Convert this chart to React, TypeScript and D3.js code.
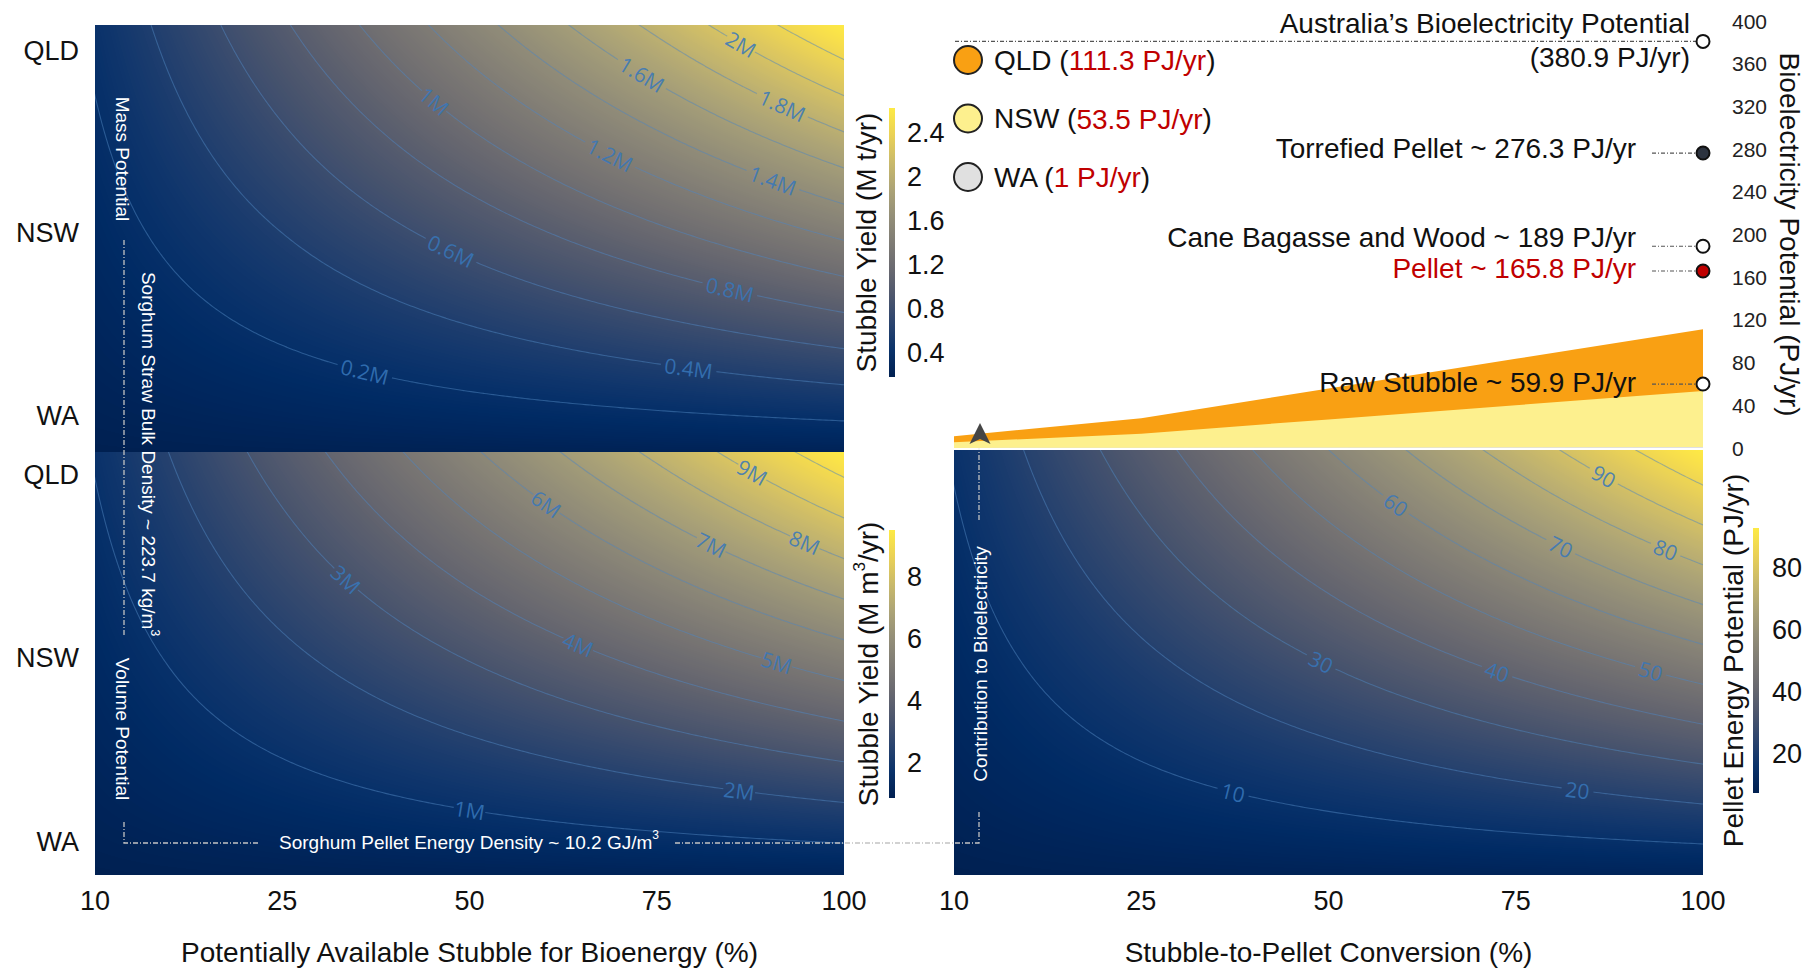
import React, { useMemo } from 'react';
import * as d3 from 'd3';

const W = 1816;
const H = 971;
const FONT = '"Liberation Sans", Arial, sans-serif';

// x axis categories (shared by every panel)
const xTicks = [10, 25, 50, 75, 100];
// rows, bottom to top
const states = ['WA', 'NSW', 'QLD'];

// stubble mass yield (M t/yr) at each x tick, per state
const massWA = [0.023, 0.075, 0.127, 0.178, 0.23];
const massNSW = [0.124, 0.4, 0.68, 0.96, 1.24];
const massQLD = [0.225, 0.73, 1.24, 1.74, 2.25];
const massLevels = [0.2, 0.4, 0.6, 0.8, 1, 1.2, 1.4, 1.6, 1.8, 2, 2.2];
const massLabelAt = [1.44, 3.17, 1.9, 3.39, 1.81, 2.75, 3.62, 2.92, 3.67, 3.45, -1];
const massBarRange = [0.18, 2.63];
const massBarTicks = [0.4, 0.8, 1.2, 1.6, 2, 2.4];

// stubble volume yield (M m3/yr)
const volWA = [0.1, 0.34, 0.57, 0.8, 1.03];
const volNSW = [0.55, 1.79, 3.04, 4.29, 5.54];
const volQLD = [1.01, 3.26, 5.54, 7.78, 10.06];
const volLevels = [1, 2, 3, 4, 5, 6, 7, 8, 9, 10];
const volLabelAt = [2.0, 3.44, 1.34, 2.58, 3.64, 2.41, 3.29, 3.79, 3.51, -1];
const volBarRange = [0.87, 9.5];
const volBarTicks = [2, 4, 6, 8];

// pellet energy potential (PJ/yr)
const energyWA = [1.0, 3.5, 5.8, 8.2, 10.5];
const energyNSW = [5.6, 18.3, 31.0, 43.8, 56.5];
const energyQLD = [10.3, 33.3, 56.5, 79.4, 102.6];
const energyLevels = [10, 20, 30, 40, 50, 60, 70, 80, 90, 100];
const energyLabelAt = [1.49, 3.33, 1.96, 2.9, 3.72, 2.36, 3.24, 3.8, 3.47, -1];
const energyBarRange = [7.4, 92.9];
const energyBarTicks = [20, 40, 60, 80];

// contribution to bioelectricity by state (PJ/yr)
const bioQLD = [11.1, 27.8, 55.7, 83.5, 111.3];
const bioNSW = [5.4, 13.4, 26.8, 40.1, 53.5];
const bioWA = [0.1, 0.25, 0.5, 0.75, 1.0];
const bioTicks = [0, 40, 80, 120, 160, 200, 240, 280, 320, 360, 400];

const legendStates = ['QLD', 'NSW', 'WA'];
const legendTotals = ['111.3 PJ/yr', '53.5 PJ/yr', '1 PJ/yr'];
const legendColors = ['#f9a013', '#fdf08e', '#e0e0e0'];

const refNames = ['Torrefied Pellet', 'Cane Bagasse and Wood', 'Pellet', 'Raw Stubble'];
const refValues = [276.3, 189, 165.8, 59.9];
const australiaTotal = 380.9;

const lut = d3.range(256).map((i) => d3.rgb(d3.interpolateCividis(i / 255)));

type Field = (u: number, v: number) => number;

// rows[0] = WA (v=0), rows[1] = NSW, rows[2] = QLD ; bilinear, linear beyond the rows
function makeField(rows: number[][]): Field {
  return (u, v) => {
    const i = Math.max(0, Math.min(3, Math.floor(u)));
    const j = Math.max(0, Math.min(1, Math.floor(v)));
    const fu = u - i;
    const fv = v - j;
    const a = rows[j][i] * (1 - fu) + rows[j][i + 1] * fu;
    const b = rows[j + 1][i] * (1 - fu) + rows[j + 1][i + 1] * fu;
    return a * (1 - fv) + b * fv;
  };
}

function renderImage(field: Field, w: number, h: number, vLo: number, vHi: number, zMin: number, zMax: number) {
  const canvas = document.createElement('canvas');
  canvas.width = w;
  canvas.height = h;
  const ctx = canvas.getContext('2d')!;
  const img = ctx.createImageData(w, h);
  for (let py = 0; py < h; py++) {
    const v = vHi - ((py + 0.5) / h) * (vHi - vLo);
    for (let px = 0; px < w; px++) {
      const u = ((px + 0.5) / w) * 4;
      const t = (field(u, v) - zMin) / (zMax - zMin);
      const c = lut[Math.max(0, Math.min(255, Math.round(t * 255)))];
      const k = (py * w + px) * 4;
      img.data[k] = c.r;
      img.data[k + 1] = c.g;
      img.data[k + 2] = c.b;
      img.data[k + 3] = 255;
    }
  }
  ctx.putImageData(img, 0, 0);
  return canvas.toDataURL();
}

interface PanelProps {
  id: string;
  x0: number; x1: number; y0: number; y1: number;
  vLo: number; vHi: number;
  rows: number[][];
  levels: number[];
  labelAt: number[];
  fmt: (d: number) => string;
}

function HeatPanel({ id, x0, x1, y0, y1, vLo, vHi, rows, levels, labelAt, fmt }: PanelProps) {
  const built = useMemo(() => {
    const field = makeField(rows);
    const w = Math.round(x1 - x0);
    const h = Math.round(y1 - y0);
    const corners = [field(0, vLo), field(4, vLo), field(0, vHi), field(4, vHi)];
    const zMin = d3.min(corners)!;
    const zMax = d3.max(corners)!;
    const href = renderImage(field, w, h, vLo, vHi, zMin, zMax);

    const xs = d3.scaleLinear().domain([0, 4]).range([x0, x1]);
    const ys = d3.scaleLinear().domain([vLo, vHi]).range([y1, y0]);

    // contour grid a little larger than the panel so borders get clipped away
    const nx = 260, ny = 160;
    const uL = -0.2, uH = 4.2, vL = vLo - 0.1, vH = vHi + 0.1;
    const values = new Array(nx * ny);
    for (let j = 0; j < ny; j++) {
      const v = vH - ((j + 0.5) / ny) * (vH - vL);
      for (let i = 0; i < nx; i++) {
        values[j * nx + i] = field(uL + ((i + 0.5) / nx) * (uH - uL), v);
      }
    }
    const polys = d3.contours().size([nx, ny]).thresholds(levels)(values);
    const proj = d3.geoTransform({
      point(px: number, py: number) {
        // @ts-ignore
        this.stream.point(xs(uL + (px / nx) * (uH - uL)), ys(vH - (py / ny) * (vH - vL)));
      },
    });
    const path = d3.geoPath(proj);
    const lines = polys.map((p) => path(p as any) || '');

    const dxu = 4 / (x1 - x0);
    const dyv = -(vHi - vLo) / (y1 - y0);
    const labels = levels
      .map((c, k) => {
        const u0 = labelAt[k];
        if (u0 < 0) return null;
        if (field(u0, vLo) > c || field(u0, vHi) < c) return null;
        let lo = vLo, hi = vHi;
        for (let it = 0; it < 40; it++) {
          const mid = (lo + hi) / 2;
          if (field(u0, mid) < c) lo = mid; else hi = mid;
        }
        const v = (lo + hi) / 2;
        const e = 0.01;
        const gx = ((field(u0 + e, v) - field(u0 - e, v)) / (2 * e)) * dxu;
        const gy = ((field(u0, v + e) - field(u0, v - e)) / (2 * e)) * dyv;
        let tx = -gy, ty = gx;
        if (tx < 0) { tx = -tx; ty = -ty; }
        const angle = (Math.atan2(ty, tx) * 180) / Math.PI;
        const text = fmt(c);
        return { x: xs(u0), y: ys(v), angle, text, w: text.length * 12 + 8 };
      })
      .filter(Boolean) as { x: number; y: number; angle: number; text: string; w: number }[];

    return { href, lines, labels };
  }, [x0, x1, y0, y1, vLo, vHi, rows, levels, labelAt, fmt]);

  return (
    <g>
      <defs>
        <clipPath id={`clip-${id}`}>
          <rect x={x0} y={y0} width={x1 - x0} height={y1 - y0} />
        </clipPath>
        <mask id={`mask-${id}`} maskUnits="userSpaceOnUse" x={x0} y={y0} width={x1 - x0} height={y1 - y0}>
          <rect x={x0} y={y0} width={x1 - x0} height={y1 - y0} fill="white" />
          {built.labels.map((l, i) => (
            <rect key={i} x={-l.w / 2} y={-10} width={l.w} height={20} fill="black"
              transform={`translate(${l.x},${l.y}) rotate(${l.angle})`} />
          ))}
        </mask>
      </defs>
      <image href={built.href} x={x0} y={y0} width={x1 - x0} height={y1 - y0} preserveAspectRatio="none" />
      <g clipPath={`url(#clip-${id})`}>
        <g mask={`url(#mask-${id})`}>
          {built.lines.map((d, i) => (
            <path key={i} d={d} fill="none" stroke="#4f86bf" strokeOpacity={0.5} strokeWidth={1.1} />
          ))}
        </g>
        {built.labels.map((l, i) => (
          <text key={i} transform={`translate(${l.x},${l.y}) rotate(${l.angle})`} textAnchor="middle"
            dominantBaseline="central" fontFamily='"Open Sans", "DejaVu Sans", sans-serif' fontSize={21}
            fill="#3777bb" fillOpacity={0.85}>
            {l.text}
          </text>
        ))}
      </g>
    </g>
  );
}

function ColorBar({ id, x, y0, y1, range, ticks, title, titleX, labelX }: {
  id: string; x: number; y0: number; y1: number; range: number[]; ticks: number[];
  title: React.ReactNode; titleX: number; labelX: number;
}) {
  const s = d3.scaleLinear().domain(range).range([y1, y0]);
  const stops = d3.range(0, 1.0001, 0.1);
  return (
    <g>
      <defs>
        <linearGradient id={`grad-${id}`} x1="0" y1="1" x2="0" y2="0">
          {stops.map((t) => (
            <stop key={t} offset={t} stopColor={d3.interpolateCividis(t)} />
          ))}
        </linearGradient>
      </defs>
      <rect x={x} y={y0} width={6} height={y1 - y0} fill={`url(#grad-${id})`} />
      {ticks.map((t) => (
        <text key={t} x={labelX} y={s(t)} dominantBaseline="central" fontSize={27} fontFamily={FONT} fill="#111">
          {t}
        </text>
      ))}
      <text transform={`translate(${titleX},${(y0 + y1) / 2}) rotate(-90)`} textAnchor="middle"
        dominantBaseline="central" fontSize={28} fontFamily={FONT} fill="#111">
        {title}
      </text>
    </g>
  );
}

const massRows = [massWA, massNSW, massQLD];
const volRows = [volWA, volNSW, volQLD];
const energyRows = [energyWA, energyNSW, energyQLD];
const fmtM = (d: number) => `${d3.format('~g')(+d.toFixed(1))}M`;
const fmtE = (d: number) => `${d}`;

export default function App() {
  // geometry
  const L = { x0: 95, x1: 844 };
  const R = { x0: 954, x1: 1703 };
  const top = { y0: 25, y1: 452, vLo: -0.2, vHi: 2.14 };
  const bot = { y0: 452, y1: 875, vLo: -0.18, vHi: 2.125 };

  const xL = d3.scalePoint<number>().domain(xTicks).range([L.x0, L.x1]);
  const xR = d3.scalePoint<number>().domain(xTicks).range([R.x0, R.x1]);
  const yTop = d3.scaleLinear().domain([top.vLo, top.vHi]).range([top.y1, top.y0]);
  const yBot = d3.scaleLinear().domain([bot.vLo, bot.vHi]).range([bot.y1, bot.y0]);
  const yBio = d3.scaleLinear().domain([0, 400]).range([448, 21]);

  const area = (vals: number[]) =>
    d3.area<number>()
      .x((_, i) => xR(xTicks[i])!)
      .y0(yBio(0))
      .y1((d) => yBio(d))(vals) || '';

  const dotX = R.x1;
  const leader = { stroke: '#555', strokeWidth: 1.2, strokeDasharray: '4,2,1,2' };
  const annot = { stroke: '#c4c4c4', strokeWidth: 1.3, strokeDasharray: '5,2,1,2', fill: 'none' };
  const refNudge = [-5, -9, -3, -2];
  const refColors = ['#111', '#111', '#c00000', '#111'];
  const refFill = ['#2c333f', '#fff', '#c00000', '#fff'];

  return (
    <svg width={W} height={H} style={{ position: 'absolute', left: 0, top: 0, background: '#fff' }}
      fontFamily={FONT}>
      <HeatPanel id="mass" x0={L.x0} x1={L.x1} y0={top.y0} y1={top.y1} vLo={top.vLo} vHi={top.vHi}
        rows={massRows} levels={massLevels} labelAt={massLabelAt} fmt={fmtM} />
      <HeatPanel id="vol" x0={L.x0} x1={L.x1} y0={bot.y0} y1={bot.y1} vLo={bot.vLo} vHi={bot.vHi}
        rows={volRows} levels={volLevels} labelAt={volLabelAt} fmt={fmtM} />
      <HeatPanel id="energy" x0={R.x0} x1={R.x1} y0={450} y1={bot.y1} vLo={bot.vLo} vHi={2.135}
        rows={energyRows} levels={energyLevels} labelAt={energyLabelAt} fmt={fmtE} />

      {/* state labels */}
      {states.map((s, i) => (
        <g key={s}>
          <text x={79} y={yTop(i)} textAnchor="end" dominantBaseline="central" fontSize={27} fill="#111">{s}</text>
          <text x={79} y={yBot(i)} textAnchor="end" dominantBaseline="central" fontSize={27} fill="#111">{s}</text>
        </g>
      ))}

      {/* x ticks */}
      {xTicks.map((t) => (
        <g key={t}>
          <text x={xL(t)} y={901} textAnchor="middle" dominantBaseline="central" fontSize={27} fill="#111">{t}</text>
          <text x={xR(t)} y={901} textAnchor="middle" dominantBaseline="central" fontSize={27} fill="#111">{t}</text>
        </g>
      ))}
      <text x={(L.x0 + L.x1) / 2} y={952} textAnchor="middle" dominantBaseline="central" fontSize={28} fill="#111">
        Potentially Available Stubble for Bioenergy (%)
      </text>
      <text x={(R.x0 + R.x1) / 2} y={952} textAnchor="middle" dominantBaseline="central" fontSize={28} fill="#111">
        Stubble-to-Pellet Conversion (%)
      </text>

      {/* white annotations in the left panels */}
      <text transform="translate(122,159) rotate(90)" textAnchor="middle" dominantBaseline="central" fontSize={19} fill="#fff">
        Mass Potential
      </text>
      <text transform="translate(148,454) rotate(90)" textAnchor="middle" dominantBaseline="central" fontSize={19} fill="#fff">
        Sorghum Straw Bulk Density ~ 223.7 kg/m<tspan dy={-7} fontSize={12}>3</tspan>
      </text>
      <text transform="translate(122,729) rotate(90)" textAnchor="middle" dominantBaseline="central" fontSize={19} fill="#fff">
        Volume Potential
      </text>
      <text x={279} y={842} dominantBaseline="central" fontSize={19} fill="#fff">
        Sorghum Pellet Energy Density ~ 10.2 GJ/m<tspan dy={-7} fontSize={12}>3</tspan>
      </text>
      <path d="M124,240V637" {...annot} />
      <path d="M124,822V843H260" {...annot} />
      <path d="M675,843H979V810" {...annot} />
      <path d="M979,520V440" {...annot} />
      <text transform="translate(980,664) rotate(-90)" textAnchor="middle" dominantBaseline="central" fontSize={19} fill="#fff">
        Contribution to Bioelectricity
      </text>

      {/* colour bars */}
      <ColorBar id="mass" x={889} y0={108} y1={377} range={massBarRange} ticks={massBarTicks}
        title="Stubble Yield (M t/yr)" titleX={866} labelX={907} />
      <ColorBar id="vol" x={889} y0={530} y1={798} range={volBarRange} ticks={volBarTicks}
        title={<>Stubble Yield (M m<tspan dy={-9} fontSize={17}>3</tspan><tspan dy={9}>/yr)</tspan></>}
        titleX={868} labelX={907} />
      <ColorBar id="energy" x={1753} y0={528} y1={793} range={energyBarRange} ticks={energyBarTicks}
        title="Pellet Energy Potential (PJ/yr)" titleX={1733} labelX={1772} />

      {/* bioelectricity areas */}
      <path d={area(bioQLD)} fill={legendColors[0]} />
      <path d={area(bioNSW)} fill={legendColors[1]} />
      <path d={area(bioWA)} fill={legendColors[2]} />
      <line x1={R.x0} x2={R.x1} y1={449} y2={449} stroke="#fff" strokeWidth={1.5} />

      {/* arrow */}
      <path d="M980,423L990.5,444L980,439L969.5,444Z" fill="#454545" />

      {/* right axis */}
      {bioTicks.map((t) => (
        <text key={t} x={1732} y={yBio(t)} dominantBaseline="central" fontSize={21} fill="#222">{t}</text>
      ))}
      <text transform={`translate(1789,${yBio(200)}) rotate(90)`} textAnchor="middle" dominantBaseline="central"
        fontSize={28} fill="#111">
        Bioelectricity Potential (PJ/yr)
      </text>

      {/* Australia total */}
      <line x1={955} x2={dotX - 7} y1={yBio(australiaTotal)} y2={yBio(australiaTotal)} {...leader} />
      <circle cx={dotX} cy={yBio(australiaTotal)} r={6.5} fill="#fff" stroke="#111" strokeWidth={2} />
      <text x={1690} y={yBio(australiaTotal) - 18} textAnchor="end" dominantBaseline="central" fontSize={28} fill="#111">
        Australia’s Bioelectricity Potential
      </text>
      <text x={1690} y={yBio(australiaTotal) + 16} textAnchor="end" dominantBaseline="central" fontSize={28} fill="#111">
        ({australiaTotal} PJ/yr)
      </text>

      {/* reference sources */}
      {refNames.map((n, i) => (
        <g key={n}>
          <line x1={1652} x2={dotX - 7} y1={yBio(refValues[i])} y2={yBio(refValues[i])} {...leader} />
          <circle cx={dotX} cy={yBio(refValues[i])} r={6.5} fill={refFill[i]} stroke="#111" strokeWidth={2} />
          <text x={1636} y={yBio(refValues[i]) + refNudge[i]} textAnchor="end" dominantBaseline="central"
            fontSize={28} fill={refColors[i]}>
            {n} ~ {refValues[i]} PJ/yr
          </text>
        </g>
      ))}

      {/* legend */}
      {legendStates.map((s, i) => (
        <g key={s}>
          <circle cx={968} cy={60 + i * 58.5} r={14} fill={legendColors[i]} stroke="#222" strokeWidth={2} />
          <text x={994} y={60 + i * 58.5} dominantBaseline="central" fontSize={28} fill="#111">
            {s} (<tspan fill="#c00000">{legendTotals[i]}</tspan>)
          </text>
        </g>
      ))}
    </svg>
  );
}
